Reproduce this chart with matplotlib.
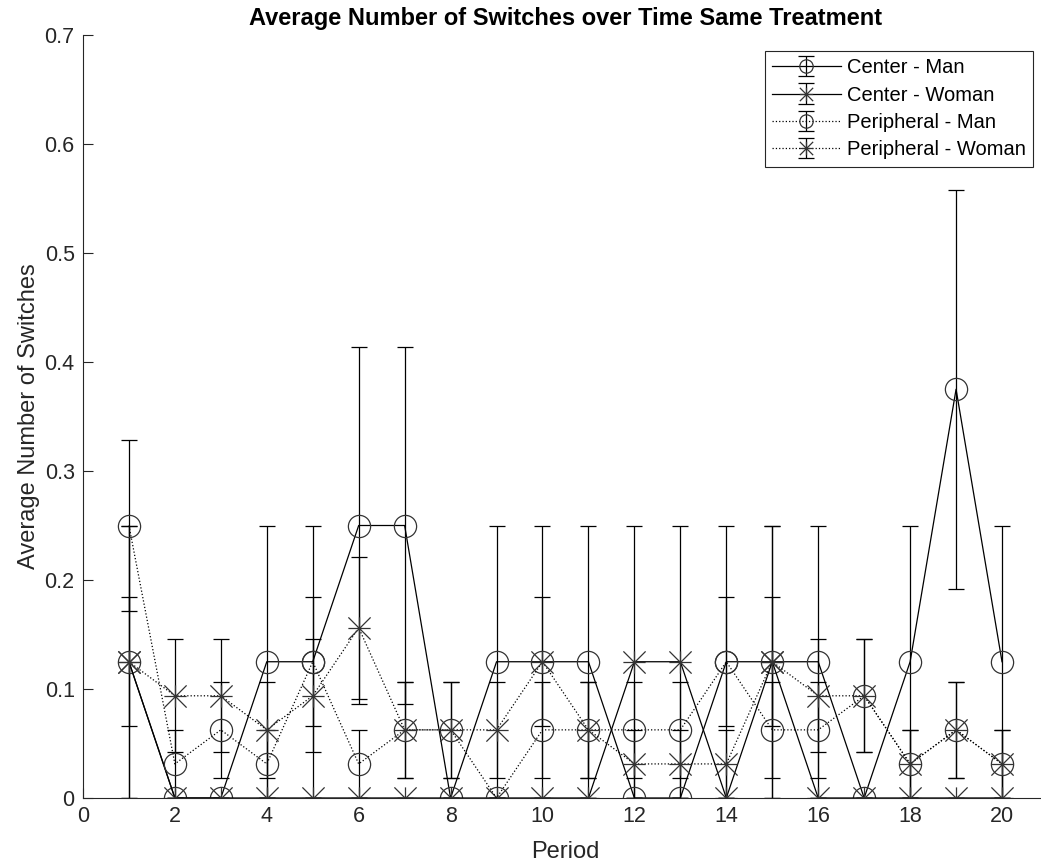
import matplotlib
matplotlib.use("Agg")
import matplotlib.pyplot as plt
from matplotlib.path import Path

plt.rcParams['font.family'] = ['Liberation Sans', 'DejaVu Sans']

# Moyennes par période (1 à 20) et erreurs standards
periodes = list(range(1, 21))

centre_homme = [0.125, 0, 0, 0.125, 0.125, 0.25, 0.25, 0, 0.125, 0.125,
                0.125, 0, 0, 0.125, 0.125, 0.125, 0, 0.125, 0.375, 0.125]
centre_homme_err = [0.125, 0, 0, 0.125, 0.125, 0.164, 0.164, 0, 0.125, 0.125,
                    0.125, 0, 0, 0.125, 0.125, 0.125, 0, 0.125, 0.183, 0.125]

centre_femme = [0.125, 0, 0, 0, 0, 0, 0, 0, 0, 0,
                0, 0.125, 0.125, 0, 0.125, 0, 0, 0, 0, 0]
centre_femme_err = [0.125, 0, 0, 0, 0, 0, 0, 0, 0, 0,
                    0, 0.125, 0.125, 0, 0.125, 0, 0, 0, 0, 0]

periph_homme = [0.25, 0.03125, 0.0625, 0.03125, 0.125, 0.03125, 0.0625, 0.0625, 0, 0.0625,
                0.0625, 0.0625, 0.0625, 0.125, 0.0625, 0.0625, 0.09375, 0.03125, 0.0625, 0.03125]
periph_homme_err = [0.078, 0.031, 0.044, 0.031, 0.059, 0.031, 0.044, 0.044, 0, 0.044,
                    0.044, 0.044, 0.044, 0.059, 0.044, 0.044, 0.052, 0.031, 0.044, 0.031]

periph_femme = [0.125, 0.09375, 0.09375, 0.0625, 0.09375, 0.15625, 0.0625, 0.0625, 0.0625, 0.125,
                0.0625, 0.03125, 0.03125, 0.03125, 0.125, 0.09375, 0.09375, 0.03125, 0.0625, 0.03125]
periph_femme_err = [0.059, 0.052, 0.052, 0.044, 0.052, 0.065, 0.044, 0.044, 0.044, 0.059,
                    0.044, 0.031, 0.031, 0.031, 0.059, 0.052, 0.052, 0.031, 0.044, 0.031]


def marqueur_etoile():
    # Astérisque façon MATLAB : un "+" superposé à un "x"
    verts = [(-1, 0), (1, 0), (0, -1), (0, 1), (-1, -1), (1, 1), (-1, 1), (1, -1)]
    codes = [Path.MOVETO, Path.LINETO] * 4
    return Path(verts, codes)


etoile = marqueur_etoile()
gris = '#262626'

fig = plt.figure(figsize=(10.41, 8.67), dpi=100)
ax = fig.add_axes([0.0797, 0.0796, 0.927, 0.880])

series = [
    (centre_homme, centre_homme_err, 'o', '-', 'Center - Man'),
    (centre_femme, centre_femme_err, etoile, '-', 'Center - Woman'),
    (periph_homme, periph_homme_err, 'o', ':', 'Peripheral - Man'),
    (periph_femme, periph_femme_err, etoile, ':', 'Peripheral - Woman'),
]

for valeurs, erreurs, mk, style, nom in series:
    ax.errorbar(periodes, valeurs, yerr=erreurs, marker=mk, linestyle=style,
                color='black', mfc='none', mec='#333333', ms=16, mew=0.9,
                lw=0.9, elinewidth=0.9, capsize=5.5, capthick=0.9, label=nom)

ax.set_xlim(0, 21)
ax.set_ylim(0, 0.7)
ax.set_xticks(range(0, 21, 2))
ax.set_yticks([0, 0.1, 0.2, 0.3, 0.4, 0.5, 0.6, 0.7])
ax.set_yticklabels(['0', '0.1', '0.2', '0.3', '0.4', '0.5', '0.6', '0.7'])

ax.spines['top'].set_visible(False)
ax.spines['right'].set_visible(False)
for cote in ['left', 'bottom']:
    ax.spines[cote].set_color(gris)
    ax.spines[cote].set_linewidth(0.8)
ax.tick_params(direction='in', length=7, width=0.8, colors=gris,
               labelsize=15.5, pad=6)

ax.set_xlabel('Period', fontsize=17, color=gris, labelpad=10)
ax.set_ylabel('Average Number of Switches', fontsize=17, color=gris, labelpad=3)
ax.set_title('Average Number of Switches over Time Same Treatment',
             fontsize=17, fontweight='bold', pad=7)

leg = ax.legend(loc='upper right', bbox_to_anchor=(0.984, 0.979), fontsize=14.5,
                handlelength=3.4, markerscale=0.6, frameon=True, fancybox=False,
                framealpha=1, borderpad=0.35, labelspacing=0.42,
                handletextpad=0.3, borderaxespad=0)
leg.get_frame().set_edgecolor(gris)
leg.get_frame().set_linewidth(0.8)

fig.savefig('out.png', dpi=100)
